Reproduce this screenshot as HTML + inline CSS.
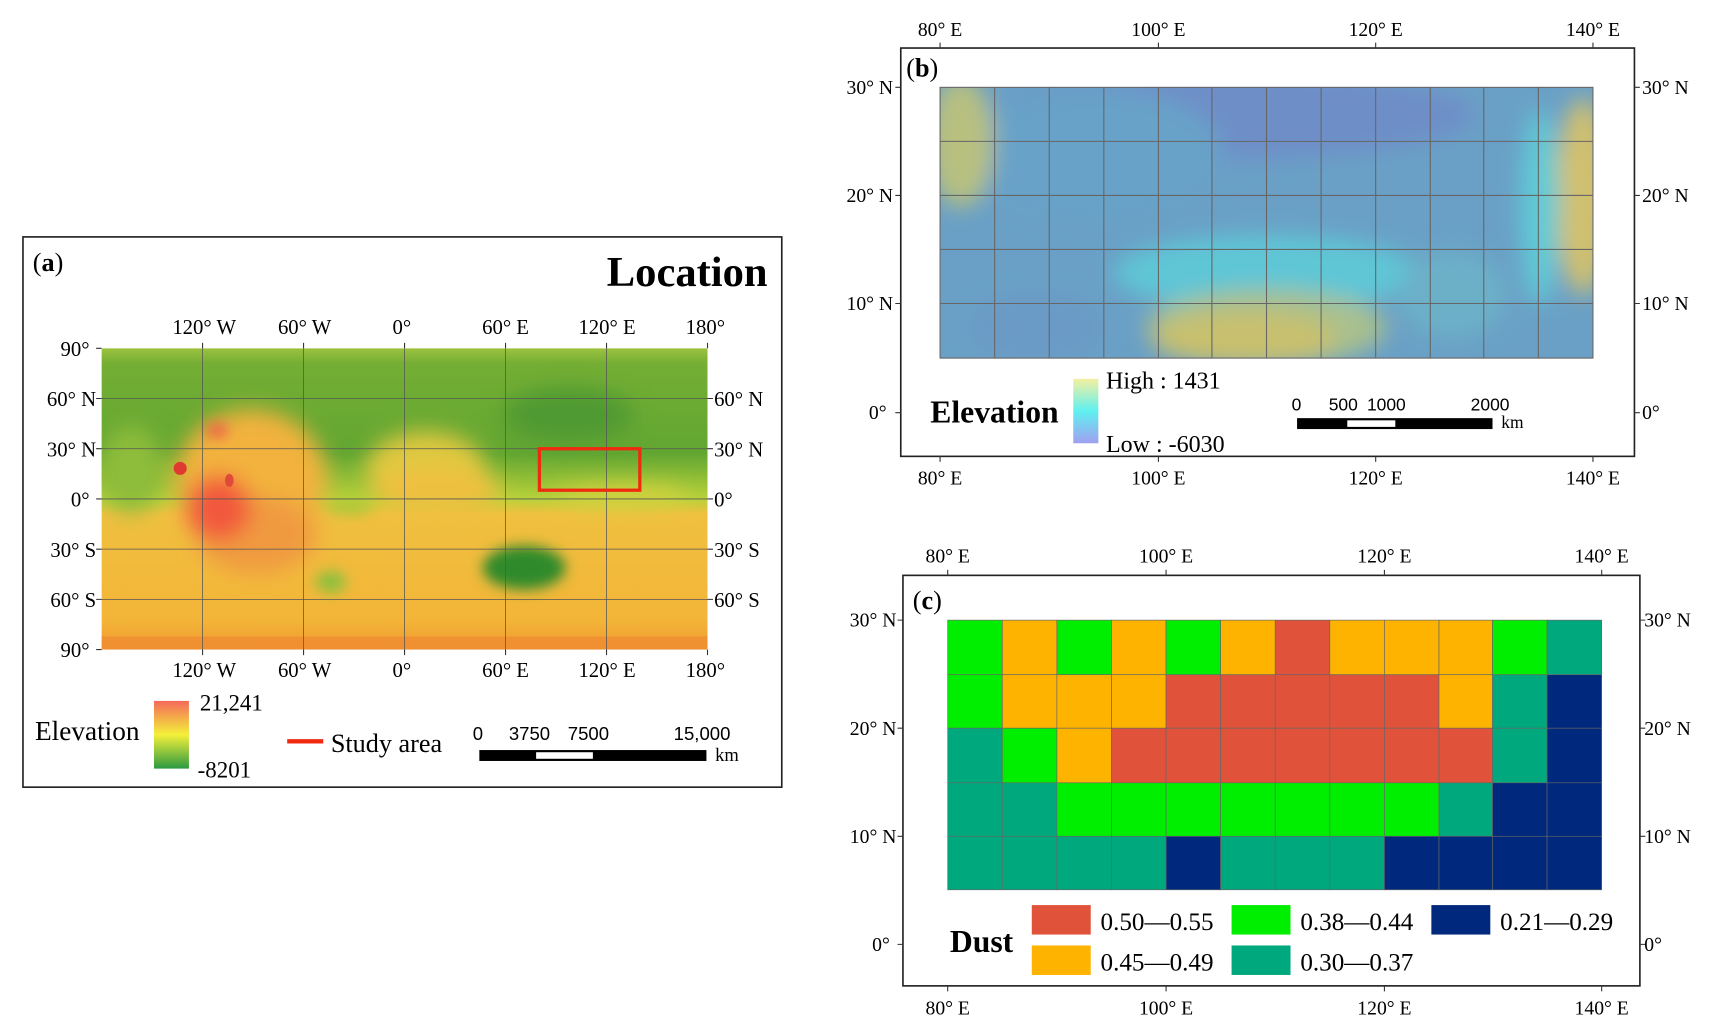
<!DOCTYPE html>
<html><head><meta charset="utf-8"><style>
html,body{margin:0;padding:0;background:#fff;}
svg{display:block;font-family:"Liberation Serif",serif;}
</style></head><body>
<svg width="1712" height="1035" viewBox="0 0 1568 948" xmlns="http://www.w3.org/2000/svg">
<defs>
<filter id="bl" x="-20%" y="-20%" width="140%" height="140%"><feGaussianBlur stdDeviation="10"/></filter>
<filter id="bl2" x="-20%" y="-20%" width="140%" height="140%"><feGaussianBlur stdDeviation="6"/></filter>
<clipPath id="ca"><rect x="93" y="319" width="555" height="276"/></clipPath>
<clipPath id="cb"><rect x="861" y="80" width="598" height="248"/></clipPath>
<linearGradient id="ga" x1="0" y1="0" x2="0" y2="1">
<stop offset="0" stop-color="#9cc23e"/><stop offset="0.05" stop-color="#74ae34"/><stop offset="0.35" stop-color="#62a632"/><stop offset="0.5" stop-color="#b8d23a"/><stop offset="0.55" stop-color="#f0c040"/><stop offset="0.9" stop-color="#f3b538"/><stop offset="1" stop-color="#ef9a30"/></linearGradient>
<linearGradient id="gel" x1="0" y1="0" x2="0" y2="1"><stop offset="0" stop-color="#f46a5a"/><stop offset="0.5" stop-color="#f4f03a"/><stop offset="1" stop-color="#2c9a40"/></linearGradient>
<linearGradient id="geb" x1="0" y1="0" x2="0" y2="1"><stop offset="0" stop-color="#f4f0a0"/><stop offset="0.5" stop-color="#60f0f0"/><stop offset="1" stop-color="#a0a0f0"/></linearGradient>
</defs>

<!-- Panel a -->
<rect x="21" y="217" width="695" height="504" fill="#fff" stroke="#222" stroke-width="1.5"/>
<text x="30" y="248" font-size="24">(<tspan font-weight="bold">a</tspan>)</text>
<text x="703" y="262" font-size="39" font-weight="bold" text-anchor="end">Location</text>
<g clip-path="url(#ca)">
<rect x="93" y="319" width="555" height="276" fill="url(#ga)"/>
<g filter="url(#bl)">
<ellipse cx="230" cy="440" rx="70" ry="65" fill="#f2b23c"/>
<ellipse cx="235" cy="490" rx="55" ry="35" fill="#f09a40"/>
<ellipse cx="200" cy="465" rx="30" ry="30" fill="#f2583c"/>
<ellipse cx="390" cy="430" rx="55" ry="35" fill="#e0c840"/>
<ellipse cx="400" cy="450" rx="60" ry="20" fill="#f0c040"/>
<ellipse cx="570" cy="455" rx="60" ry="10" fill="#d8d040"/>
<ellipse cx="520" cy="380" rx="60" ry="25" fill="#4f9a30"/>
<ellipse cx="120" cy="430" rx="30" ry="40" fill="#8ebc3a"/>
</g>
<g filter="url(#bl2)">
<ellipse cx="480" cy="520" rx="38" ry="20" fill="#2d8a2c"/>
<ellipse cx="303" cy="533" rx="14" ry="10" fill="#8cc03e"/>
<ellipse cx="199" cy="394" rx="10" ry="7" fill="#f06048"/>
<ellipse cx="320" cy="465" rx="22" ry="6" fill="#a8c838"/>
</g>
<circle cx="165" cy="429" r="6" fill="#e03a30"/>
<ellipse cx="210" cy="440" rx="4" ry="6" fill="#e04a38"/>
<rect x="93" y="583" width="555" height="12" fill="#f08a30" opacity="0.7"/>
</g>
<g stroke="#555" stroke-width="0.7" fill="none">
<line x1="185.5" y1="319" x2="185.5" y2="595"/><line x1="278" y1="319" x2="278" y2="595"/><line x1="370.5" y1="319" x2="370.5" y2="595"/><line x1="463" y1="319" x2="463" y2="595"/><line x1="555.5" y1="319" x2="555.5" y2="595"/>
<line x1="93" y1="365" x2="648" y2="365"/><line x1="93" y1="411" x2="648" y2="411"/><line x1="93" y1="457" x2="648" y2="457"/><line x1="93" y1="503" x2="648" y2="503"/><line x1="93" y1="549" x2="648" y2="549"/>
</g>
<rect x="494" y="411" width="92" height="38" fill="none" stroke="#f02a10" stroke-width="3"/>
<g stroke="#333" stroke-width="1">
<path d="M185.5 319v-5M278 319v-5M370.5 319v-5M463 319v-5M555.5 319v-5M648 319v-5M185.5 595v5M278 595v5M370.5 595v5M463 595v5M555.5 595v5M648 595v5"/>
<path d="M93 319h-5M93 365h-5M93 411h-5M93 457h-5M93 503h-5M93 549h-5M93 595h-5M648 365h5M648 411h5M648 457h5M648 503h5M648 549h5"/>
</g>
<g font-size="19" text-anchor="middle">
<text x="187" y="306">120° W</text><text x="279" y="306">60° W</text><text x="368" y="306">0°</text><text x="463" y="306">60° E</text><text x="556" y="306">120° E</text><text x="646" y="306">180°</text>
<text x="187" y="620">120° W</text><text x="279" y="620">60° W</text><text x="368" y="620">0°</text><text x="463" y="620">60° E</text><text x="556" y="620">120° E</text><text x="646" y="620">180°</text>
</g>
<g font-size="19" text-anchor="end">
<text x="82" y="326">90°</text><text x="88" y="372">60° N</text><text x="88" y="418">30° N</text><text x="82" y="464">0°</text><text x="88" y="510">30° S</text><text x="88" y="556">60° S</text><text x="82" y="602">90°</text>
</g>
<g font-size="19">
<text x="654" y="372">60° N</text><text x="654" y="418">30° N</text><text x="654" y="464">0°</text><text x="654" y="510">30° S</text><text x="654" y="556">60° S</text>
</g>
<text x="32" y="678" font-size="25">Elevation</text>
<rect x="141" y="642" width="32" height="62" fill="url(#gel)"/>
<text x="183" y="651" font-size="21">21,241</text>
<text x="181" y="712" font-size="21">-8201</text>
<rect x="263" y="677" width="33" height="4" fill="#f02a10"/>
<text x="303" y="689" font-size="24">Study area</text>
<g font-family="Liberation Sans, sans-serif" font-size="17">
<text x="433" y="678">0</text><text x="466" y="678">3750</text><text x="520" y="678">7500</text><text x="617" y="678">15,000</text>
</g>
<rect x="439" y="687" width="208" height="10" fill="#000"/><rect x="491" y="689" width="52" height="6" fill="#fff"/>
<text x="655" y="697" font-size="17">km</text>

<!-- Panel b -->
<rect x="825" y="44" width="672" height="374" fill="#fff" stroke="#222" stroke-width="1.5"/>
<text x="830" y="70" font-size="24">(<tspan font-weight="bold">b</tspan>)</text>
<g clip-path="url(#cb)">
<rect x="861" y="80" width="598" height="248" fill="#6aa0c6"/>
<g filter="url(#bl)">
<ellipse cx="1130" cy="105" rx="220" ry="40" fill="#6e8ec8"/>
<ellipse cx="1000" cy="140" rx="120" ry="60" fill="#68a2c8"/>
<ellipse cx="1160" cy="250" rx="140" ry="35" fill="#5ec6d6"/>
<ellipse cx="1160" cy="300" rx="110" ry="35" fill="#a8c08e"/>
<ellipse cx="1140" cy="310" rx="85" ry="25" fill="#c8c06e"/>
<ellipse cx="880" cy="130" rx="30" ry="60" fill="#b8c080"/>
<ellipse cx="1450" cy="180" rx="25" ry="90" fill="#d0c070"/>
<ellipse cx="1410" cy="190" rx="18" ry="90" fill="#5ecad6"/>
<ellipse cx="950" cy="300" rx="60" ry="30" fill="#6a9ac6"/>
<ellipse cx="1330" cy="270" rx="50" ry="40" fill="#6cb0c8"/>
</g>
</g>
<g stroke="#666" stroke-width="1" fill="none">
<path d="M911 80v248M961 80v248M1011 80v248M1061 80v248M1110 80v248M1160 80v248M1210 80v248M1260 80v248M1310 80v248M1359 80v248M1409 80v248"/>
<path d="M861 129.5h598M861 179h598M861 228.5h598M861 278h598"/>
<rect x="861" y="80" width="598" height="248"/>
</g>
<g stroke="#333" stroke-width="1">
<path d="M861 44v-5M1061 44v-5M1260 44v-5M1459 44v-5M861 418v5M1061 418v5M1260 418v5M1459 418v5"/>
<path d="M825 80h-5M825 179h-5M825 278h-5M825 378h-5M1497 80h5M1497 179h5M1497 278h5M1497 378h5"/>
</g>
<g font-size="18" text-anchor="middle">
<text x="861" y="33">80° E</text><text x="1061" y="33">100° E</text><text x="1260" y="33">120° E</text><text x="1459" y="33">140° E</text>
<text x="861" y="444">80° E</text><text x="1061" y="444">100° E</text><text x="1260" y="444">120° E</text><text x="1459" y="444">140° E</text>
</g>
<g font-size="18" text-anchor="end"><text x="818" y="86">30° N</text><text x="818" y="185">20° N</text><text x="818" y="284">10° N</text><text x="812" y="384">0°</text></g>
<g font-size="18"><text x="1504" y="86">30° N</text><text x="1504" y="185">20° N</text><text x="1504" y="284">10° N</text><text x="1504" y="384">0°</text></g>
<text x="852" y="387" font-size="29" font-weight="bold">Elevation</text>
<rect x="983" y="347" width="23" height="59" fill="url(#geb)"/>
<text x="1013" y="356" font-size="22">High : 1431</text>
<text x="1013" y="414" font-size="22">Low : -6030</text>
<g font-family="Liberation Sans, sans-serif" font-size="16">
<text x="1183" y="376">0</text><text x="1217" y="376">500</text><text x="1252" y="376">1000</text><text x="1347" y="376">2000</text>
</g>
<rect x="1188" y="383" width="179" height="10" fill="#000"/><rect x="1234" y="385" width="44" height="6" fill="#fff"/>
<text x="1375" y="392" font-size="16">km</text>

<!-- Panel c -->
<rect x="827" y="527" width="675" height="376" fill="#fff" stroke="#222" stroke-width="1.5"/>
<text x="836" y="558" font-size="24">(<tspan font-weight="bold">c</tspan>)</text>
<g stroke="#666" stroke-width="0.6">
<rect x="868" y="568" width="50" height="50" fill="#00ee00"/><rect x="918" y="568" width="50" height="50" fill="#fdb300"/><rect x="968" y="568" width="50" height="50" fill="#00ee00"/><rect x="1018" y="568" width="50" height="50" fill="#fdb300"/><rect x="1068" y="568" width="50" height="50" fill="#00ee00"/><rect x="1118" y="568" width="50" height="50" fill="#fdb300"/><rect x="1168" y="568" width="50" height="50" fill="#e0523a"/><rect x="1218" y="568" width="50" height="50" fill="#fdb300"/><rect x="1268" y="568" width="50" height="50" fill="#fdb300"/><rect x="1318" y="568" width="49" height="50" fill="#fdb300"/><rect x="1367" y="568" width="50" height="50" fill="#00ee00"/><rect x="1417" y="568" width="50" height="50" fill="#00a87e"/>
<rect x="868" y="618" width="50" height="49" fill="#00ee00"/><rect x="918" y="618" width="50" height="49" fill="#fdb300"/><rect x="968" y="618" width="50" height="49" fill="#fdb300"/><rect x="1018" y="618" width="50" height="49" fill="#fdb300"/><rect x="1068" y="618" width="50" height="49" fill="#e0523a"/><rect x="1118" y="618" width="50" height="49" fill="#e0523a"/><rect x="1168" y="618" width="50" height="49" fill="#e0523a"/><rect x="1218" y="618" width="50" height="49" fill="#e0523a"/><rect x="1268" y="618" width="50" height="49" fill="#e0523a"/><rect x="1318" y="618" width="49" height="49" fill="#fdb300"/><rect x="1367" y="618" width="50" height="49" fill="#00a87e"/><rect x="1417" y="618" width="50" height="49" fill="#00287c"/>
<rect x="868" y="667" width="50" height="50" fill="#00a87e"/><rect x="918" y="667" width="50" height="50" fill="#00ee00"/><rect x="968" y="667" width="50" height="50" fill="#fdb300"/><rect x="1018" y="667" width="50" height="50" fill="#e0523a"/><rect x="1068" y="667" width="50" height="50" fill="#e0523a"/><rect x="1118" y="667" width="50" height="50" fill="#e0523a"/><rect x="1168" y="667" width="50" height="50" fill="#e0523a"/><rect x="1218" y="667" width="50" height="50" fill="#e0523a"/><rect x="1268" y="667" width="50" height="50" fill="#e0523a"/><rect x="1318" y="667" width="49" height="50" fill="#e0523a"/><rect x="1367" y="667" width="50" height="50" fill="#00a87e"/><rect x="1417" y="667" width="50" height="50" fill="#00287c"/>
<rect x="868" y="717" width="50" height="49" fill="#00a87e"/><rect x="918" y="717" width="50" height="49" fill="#00a87e"/><rect x="968" y="717" width="50" height="49" fill="#00ee00"/><rect x="1018" y="717" width="50" height="49" fill="#00ee00"/><rect x="1068" y="717" width="50" height="49" fill="#00ee00"/><rect x="1118" y="717" width="50" height="49" fill="#00ee00"/><rect x="1168" y="717" width="50" height="49" fill="#00ee00"/><rect x="1218" y="717" width="50" height="49" fill="#00ee00"/><rect x="1268" y="717" width="50" height="49" fill="#00ee00"/><rect x="1318" y="717" width="49" height="49" fill="#00a87e"/><rect x="1367" y="717" width="50" height="49" fill="#00287c"/><rect x="1417" y="717" width="50" height="49" fill="#00287c"/>
<rect x="868" y="766" width="50" height="49" fill="#00a87e"/><rect x="918" y="766" width="50" height="49" fill="#00a87e"/><rect x="968" y="766" width="50" height="49" fill="#00a87e"/><rect x="1018" y="766" width="50" height="49" fill="#00a87e"/><rect x="1068" y="766" width="50" height="49" fill="#00287c"/><rect x="1118" y="766" width="50" height="49" fill="#00a87e"/><rect x="1168" y="766" width="50" height="49" fill="#00a87e"/><rect x="1218" y="766" width="50" height="49" fill="#00a87e"/><rect x="1268" y="766" width="50" height="49" fill="#00287c"/><rect x="1318" y="766" width="49" height="49" fill="#00287c"/><rect x="1367" y="766" width="50" height="49" fill="#00287c"/><rect x="1417" y="766" width="50" height="49" fill="#00287c"/>
</g>
<g stroke="#333" stroke-width="1">
<path d="M868 527v-5M1068 527v-5M1268 527v-5M1467 527v-5M868 903v5M1068 903v5M1268 903v5M1467 903v5"/>
<path d="M827 568h-5M827 667h-5M827 766h-5M827 865h-5M1502 568h5M1502 667h5M1502 766h5M1502 865h5"/>
</g>
<g font-size="18" text-anchor="middle">
<text x="868" y="515">80° E</text><text x="1068" y="515">100° E</text><text x="1268" y="515">120° E</text><text x="1467" y="515">140° E</text>
<text x="868" y="929">80° E</text><text x="1068" y="929">100° E</text><text x="1268" y="929">120° E</text><text x="1467" y="929">140° E</text>
</g>
<g font-size="18" text-anchor="end"><text x="821" y="574">30° N</text><text x="821" y="673">20° N</text><text x="821" y="772">10° N</text><text x="815" y="871">0°</text></g>
<g font-size="18"><text x="1506" y="574">30° N</text><text x="1506" y="673">20° N</text><text x="1506" y="772">10° N</text><text x="1506" y="871">0°</text></g>
<text x="870" y="872" font-size="29" font-weight="bold">Dust</text>
<rect x="945" y="829" width="54" height="27" fill="#e0523a"/><rect x="945" y="866" width="54" height="27" fill="#fdb300"/>
<rect x="1128" y="829" width="54" height="27" fill="#00ee00"/><rect x="1128" y="866" width="54" height="27" fill="#00a87e"/>
<rect x="1311" y="829" width="54" height="27" fill="#00287c"/>
<g font-size="23">
<text x="1008" y="852">0.50—0.55</text><text x="1008" y="889">0.45—0.49</text>
<text x="1191" y="852">0.38—0.44</text><text x="1191" y="889">0.30—0.37</text>
<text x="1374" y="852">0.21—0.29</text>
</g>
</svg>
</body></html>
